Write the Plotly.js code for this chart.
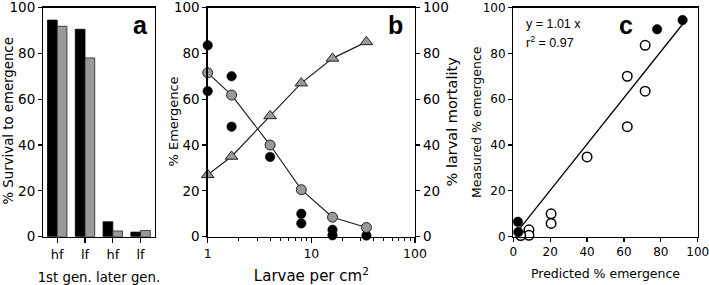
<!DOCTYPE html>
<html>
<head>
<meta charset="utf-8">
<script src="https://cdn.plot.ly/plotly-3.0.1.min.js"></script>
<style>
html,body{margin:0;padding:0;background:#fff;}
#chart{width:709px;height:285px;}
</style>
</head>
<body>
<div id="chart"></div>
<script>
// ---- Panel a: survival to emergence ----
var groupA = ['1st gen.', '1st gen.', 'later gen.', 'later gen.'];
var foodA = ['hf', 'lf', 'hf', 'lf'];
var measuredA = [94.5, 90.5, 6.5, 2.0];
var predictedA = [91.8, 78.0, 2.5, 2.7];

// ---- Panel b: density response ----
var densityB = [1, 1.7, 4, 8, 16, 34];
var modelEmergenceB = [71.5, 61.8, 40.0, 20.5, 8.5, 4.0];
var larvalMortalityB = [27.0, 35.0, 52.7, 67.0, 77.8, 85.0];
var obsDensityB = [1, 1, 1.7, 1.7, 4, 8, 8, 16, 16, 34];
var obsEmergenceB = [83.5, 63.5, 70.0, 48.0, 34.8, 10.0, 5.8, 3.0, 0.6, 0.5];

// ---- Panel c: predicted vs measured ----
var predFilledC = [91.8, 78.0, 2.5, 2.7];
var measFilledC = [94.5, 90.5, 6.5, 2.0];
var predOpenC = [71.5, 71.5, 61.8, 61.8, 40.0, 20.5, 20.5, 8.5, 8.5, 4.0];
var measOpenC = [83.5, 63.5, 70.0, 48.0, 34.8, 10.0, 5.8, 3.0, 0.6, 0.5];
var fitSlope = 1.01;
var fitR2 = 0.97;
var fitRangeC = [2.5, 92];

// ---- Axis titles ----
var yTitleA = '% Survival to emergence';
var yTitleB = '% Emergence';
var y2TitleB = '% larval mortality';
var yTitleC = 'Measured % emergence';

var keysA = groupA.map(function (g, i) { return g + ' ' + foodA[i]; });

var FONT = 'DejaVu Sans, Liberation Sans, Arial, sans-serif';
var SANS = 'Liberation Sans, Arial, sans-serif';
var GRAY = '#999999';
var EDGE = '#222222';
function tf(size) { return {family: FONT, size: size, color: '#000'}; }

var axisBase = {
  showline: true, linecolor: '#000', linewidth: 1.3,
  ticks: 'outside', ticklen: 4, tickwidth: 1.2, tickcolor: '#000',
  showgrid: false, zeroline: false, tickfont: tf(13.5), fixedrange: true,
  ticklabeloverflow: 'allow'
};
function ax(extra) { return Object.assign({}, axisBase, extra); }

var data = [
  {type: 'bar', name: 'Measured', x: keysA, y: measuredA, xaxis: 'x', yaxis: 'y',
   marker: {color: '#000', line: {color: '#000', width: 0.8}}},
  {type: 'bar', name: 'Predicted', x: keysA, y: predictedA, xaxis: 'x', yaxis: 'y',
   marker: {color: GRAY, line: {color: EDGE, width: 0.8}}},

  {type: 'scatter', mode: 'lines+markers', name: 'Larval mortality', x: densityB, y: larvalMortalityB,
   xaxis: 'x2', yaxis: 'y3', cliponaxis: false,
   line: {color: EDGE, width: 1.2},
   marker: {symbol: 'triangle-up', size: 11, color: GRAY, line: {color: EDGE, width: 1}}},
  {type: 'scatter', mode: 'markers', name: 'Observed emergence', x: obsDensityB, y: obsEmergenceB,
   xaxis: 'x2', yaxis: 'y2', cliponaxis: false,
   marker: {symbol: 'circle', size: 9.5, color: '#000', line: {color: '#000', width: 0.5}}},
  {type: 'scatter', mode: 'lines+markers', name: 'Predicted emergence', x: densityB, y: modelEmergenceB,
   xaxis: 'x2', yaxis: 'y2', cliponaxis: false,
   line: {color: EDGE, width: 1.2},
   marker: {symbol: 'circle', size: 10, color: GRAY, line: {color: EDGE, width: 1}}},

  {type: 'scatter', mode: 'lines', name: 'Fit', x: fitRangeC, y: fitRangeC.map(function (v) { return fitSlope * v; }),
   xaxis: 'x3', yaxis: 'y4', line: {color: '#000', width: 1.3}},
  {type: 'scatter', mode: 'markers', name: 'Density trials', x: predOpenC, y: measOpenC,
   xaxis: 'x3', yaxis: 'y4', cliponaxis: false,
   marker: {symbol: 'circle', size: 9.5, color: '#fff', line: {color: '#000', width: 1.5}}},
  {type: 'scatter', mode: 'markers', name: 'Generation trials', x: predFilledC, y: measFilledC,
   xaxis: 'x3', yaxis: 'y4', cliponaxis: false,
   marker: {symbol: 'circle', size: 9.5, color: '#000', line: {color: '#000', width: 0.5}}}
];

var TOP = 7.5, BOT = 236.7;
var yDom = [(285 - BOT) / 285, (285 - TOP) / 285];
var yMid = 1 - 121.5 / 285;

function yTitle(text, xpx, size) {
  return {text: text, xref: 'paper', yref: 'paper', x: xpx / 709, y: yMid,
    xanchor: 'center', yanchor: 'middle', textangle: -90, showarrow: false,
    font: tf(size)};
}

var layout = {
  width: 709, height: 285,
  margin: {l: 0, r: 0, t: 0, b: 0},
  paper_bgcolor: '#fff', plot_bgcolor: 'rgba(0,0,0,0)',
  showlegend: false,
  font: {family: FONT, color: '#000'},
  barmode: 'group', bargap: 0.3, bargroupgap: 0,
  xaxis: ax({domain: [43.3 / 709, 154.5 / 709], anchor: 'y', type: 'category',
    tickvals: keysA, ticktext: foodA, mirror: true, ticklen: 5, tickfont: tf(13),
    title: {text: '1st gen. later gen.', font: tf(13.3), standoff: 14}}),
  yaxis: ax({domain: yDom, anchor: 'x', range: [0, 100], dtick: 20, mirror: true}),

  xaxis2: ax({domain: [207.7 / 709, 415 / 709], anchor: 'y2', type: 'log', range: [0, 2],
    dtick: 1, mirror: true, ticklen: 5, tickfont: tf(12.5),
    minor: {dtick: 'D1', ticks: 'outside', ticklen: 3, tickwidth: 1, tickcolor: '#000', showgrid: false},
    title: {text: 'Larvae per cm<sup>2</sup>', font: tf(15), standoff: 16}}),
  yaxis2: ax({domain: yDom, anchor: 'x2', range: [0, 100], dtick: 20}),
  yaxis3: ax({domain: yDom, anchor: 'x2', overlaying: 'y2', side: 'right', range: [0, 100], dtick: 20}),

  xaxis3: ax({domain: [513.3 / 709, 697.7 / 709], anchor: 'y4', range: [0, 100], dtick: 20, mirror: true,
    tickfont: tf(12),
    title: {text: 'Predicted % emergence', font: tf(12.5), standoff: 10}}),
  yaxis4: ax({domain: yDom, anchor: 'x3', range: [0, 100], dtick: 20, mirror: true,
    tickfont: tf(12)}),

  annotations: [
    yTitle(yTitleA, 8, 13.3),
    yTitle(yTitleB, 173, 13),
    yTitle(y2TitleB, 451, 14.5),
    yTitle(yTitleC, 476.5, 12.5),
    {text: '<b>a</b>', xref: 'paper', yref: 'paper', x: 140 / 709, y: 1 - 35 / 285,
     xanchor: 'center', yanchor: 'bottom', yshift: -6, showarrow: false,
     font: {family: SANS, size: 25, color: '#000'}},
    {text: '<b>b</b>', xref: 'paper', yref: 'paper', x: 395 / 709, y: 1 - 35 / 285,
     xanchor: 'center', yanchor: 'bottom', yshift: -6, showarrow: false,
     font: {family: SANS, size: 25, color: '#000'}},
    {text: '<b>c</b>', xref: 'paper', yref: 'paper', x: 625.7 / 709, y: 1 - 35 / 285,
     xanchor: 'center', yanchor: 'bottom', yshift: -6, showarrow: false,
     font: {family: SANS, size: 25, color: '#000'}},
    {text: 'y = ' + fitSlope.toFixed(2) + ' x', xref: 'paper', yref: 'paper', x: 524 / 709, y: 1 - 24 / 285,
     xanchor: 'left', yanchor: 'middle', showarrow: false,
     font: {family: SANS, size: 12.5, color: '#000'}},
    {text: 'r<sup>2</sup> = ' + fitR2.toFixed(2), xref: 'paper', yref: 'paper', x: 524 / 709, y: 1 - 42 / 285,
     xanchor: 'left', yanchor: 'middle', showarrow: false,
     font: {family: SANS, size: 12.5, color: '#000'}}
  ]
};

Plotly.newPlot('chart', data, layout, {displayModeBar: false, staticPlot: true});
</script>
</body>
</html>
